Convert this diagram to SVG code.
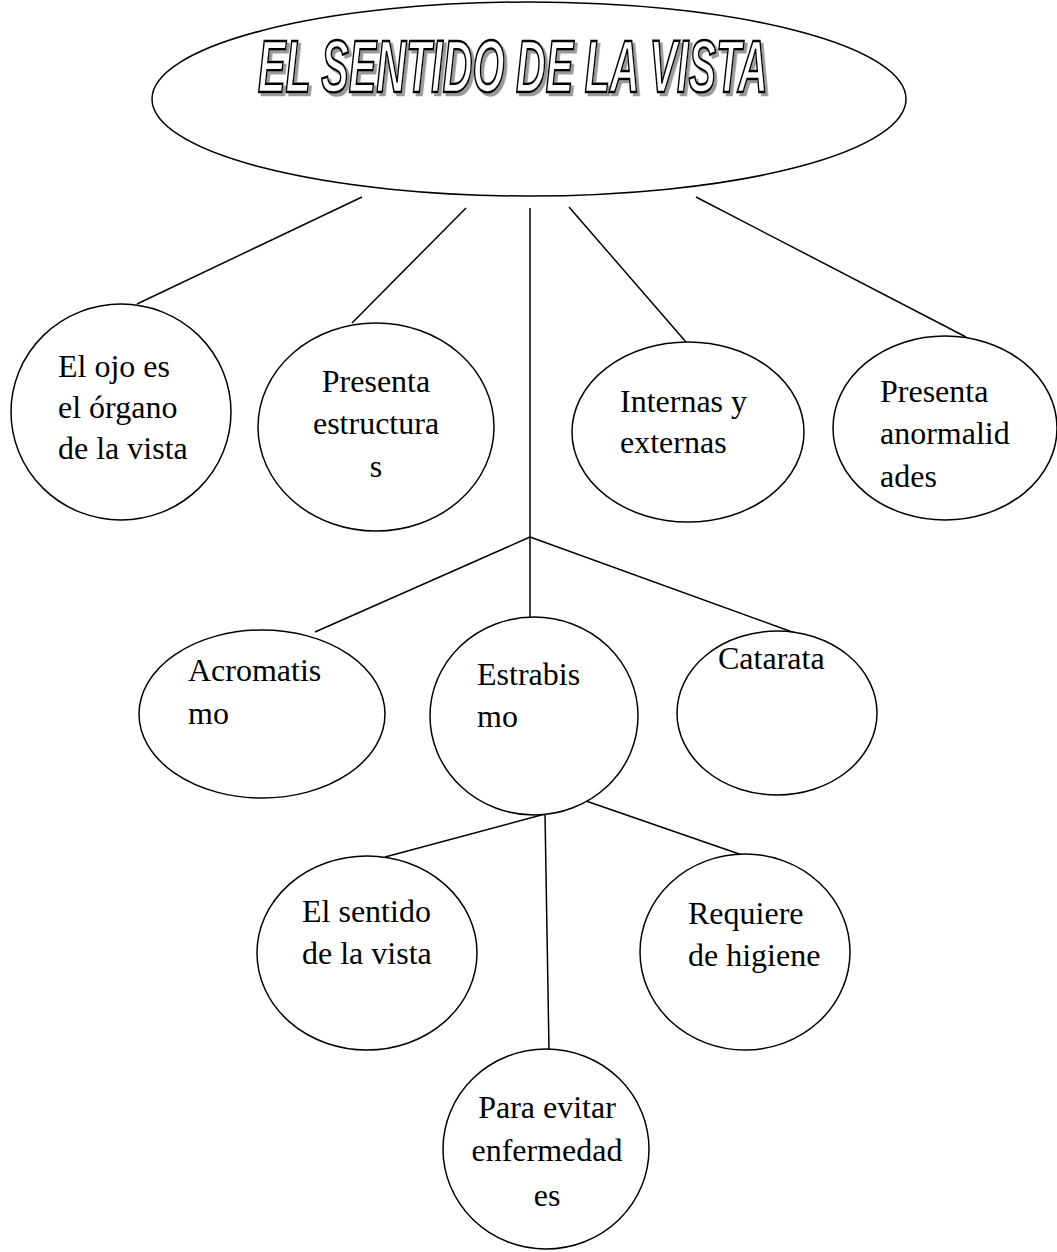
<svg xmlns="http://www.w3.org/2000/svg" width="1057" height="1252" viewBox="0 0 1057 1252">
<style>
.n{fill:#fff;stroke:#000;stroke-width:1.5}
.c{stroke:#000;stroke-width:1.5;fill:none}
.t{font-family:"Liberation Serif","Times New Roman",serif;font-size:32px;fill:#000}
.m{text-anchor:middle}
.title{font-family:"Liberation Sans Narrow","Liberation Sans",sans-serif;font-weight:bold;font-style:italic;font-size:74px;fill:#fff;stroke:#000;stroke-width:2.5;filter:url(#shadow)}
</style>
<defs>
<filter id="shadow" x="-5%" y="-20%" width="110%" height="150%">
<feDropShadow dx="5" dy="3" stdDeviation="0" flood-color="#999" flood-opacity="1"/>
</filter>
</defs>
<rect width="1057" height="1252" fill="#fff"/>
<g id="connectors">
<line class="c" x1="362" y1="197" x2="137" y2="304"/>
<line class="c" x1="466" y1="208" x2="352" y2="323"/>
<line class="c" x1="530" y1="208" x2="530" y2="618"/>
<line class="c" x1="569" y1="207" x2="686" y2="342"/>
<line class="c" x1="696" y1="197" x2="966" y2="337"/>
<line class="c" x1="530" y1="537" x2="315" y2="632"/>
<line class="c" x1="530" y1="537" x2="795" y2="633"/>
<line class="c" x1="545" y1="814" x2="385" y2="857"/>
<line class="c" x1="545" y1="814" x2="549" y2="1050"/>
<line class="c" x1="586" y1="801" x2="745" y2="856"/>
</g>
<g id="root">
<ellipse class="n" cx="529" cy="99" rx="377" ry="97"/>
<text class="title" transform="translate(258,92) scale(0.557,1)" x="0" y="0">EL SENTIDO DE LA VISTA</text>
</g>
<g id="n1">
<ellipse class="n" cx="121" cy="412" rx="110" ry="108"/>
<text class="t" x="58" y="377">El ojo es</text>
<text class="t" x="58" y="418">el órgano</text>
<text class="t" x="58" y="459">de la vista</text>
</g>
<g id="n2">
<ellipse class="n" cx="376" cy="427" rx="118" ry="104"/>
<text class="t m" x="376" y="392">Presenta</text>
<text class="t m" x="376" y="434">estructura</text>
<text class="t m" x="376" y="477">s</text>
</g>
<g id="n3">
<ellipse class="n" cx="688" cy="432" rx="116" ry="90"/>
<text class="t" x="620" y="412">Internas y</text>
<text class="t" x="620" y="453">externas</text>
</g>
<g id="n4">
<ellipse class="n" cx="945" cy="428" rx="112" ry="92"/>
<text class="t" x="880" y="402">Presenta</text>
<text class="t" x="880" y="444">anormalid</text>
<text class="t" x="880" y="487">ades</text>
</g>
<g id="n5">
<ellipse class="n" cx="262" cy="714" rx="123" ry="84"/>
<text class="t" x="188" y="681">Acromatis</text>
<text class="t" x="188" y="724">mo</text>
</g>
<g id="n6">
<ellipse class="n" cx="534" cy="716" rx="104" ry="99"/>
<text class="t" x="477" y="685">Estrabis</text>
<text class="t" x="477" y="727">mo</text>
</g>
<g id="n7">
<ellipse class="n" cx="777" cy="713" rx="100" ry="82"/>
<text class="t" x="718" y="669">Catarata</text>
</g>
<g id="n8">
<ellipse class="n" cx="367" cy="953" rx="110" ry="97"/>
<text class="t" x="302" y="922">El sentido</text>
<text class="t" x="302" y="964">de la vista</text>
</g>
<g id="n9">
<ellipse class="n" cx="745" cy="952" rx="105" ry="98"/>
<text class="t" x="688" y="924">Requiere</text>
<text class="t" x="688" y="966">de higiene</text>
</g>
<g id="n10">
<ellipse class="n" cx="546" cy="1149" rx="103" ry="100"/>
<text class="t m" x="547" y="1118">Para evitar</text>
<text class="t m" x="547" y="1161">enfermedad</text>
<text class="t m" x="547" y="1206">es</text>
</g>
</svg>
